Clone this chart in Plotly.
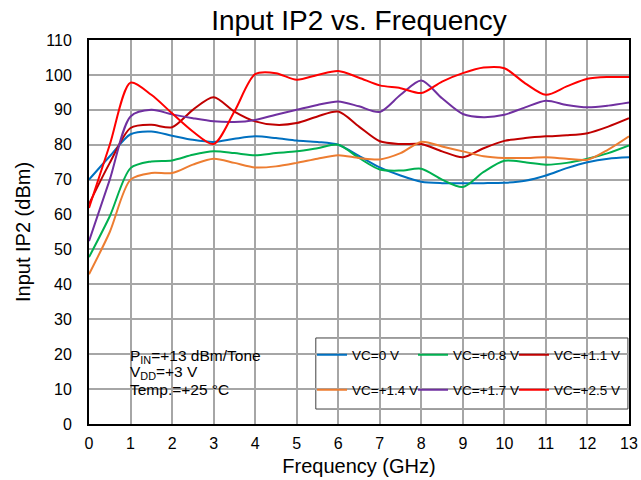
import plotly.graph_objects as go

freq = [0, 0.5, 1, 1.5, 2, 2.5, 3, 3.5, 4, 4.5, 5, 5.5, 6, 6.5, 7, 7.5, 8, 8.5, 9, 9.5, 10, 10.5, 11, 11.5, 12, 12.5, 13]

vc_0 = [70, 76.7, 83, 83.8, 82.6, 81.4, 80.8, 81.7, 82.4, 81.9, 81.2, 80.8, 80, 76.8, 73.5, 71.2, 69.4, 69, 69, 69, 69.1, 69.7, 71.2, 73.3, 75, 76, 76.4]
vc_08 = [47.8, 59.5, 73.3, 75.2, 75.5, 77.1, 78.1, 77.6, 77, 77.6, 78.1, 79, 80, 76.2, 72.9, 72.6, 73.1, 70, 67.9, 72.2, 75.4, 75, 74.3, 74.8, 76, 77.6, 79.8]
vc_11 = [63, 74.8, 84.8, 85.7, 85, 90, 93.6, 89.5, 86.7, 85.7, 86.2, 88.1, 89.5, 85.2, 81, 80.2, 80.2, 78.1, 76.4, 79, 81.1, 81.9, 82.4, 82.7, 83.3, 85.2, 87.6]
vc_14 = [42.9, 55, 70, 71.9, 71.9, 74.3, 76, 74.8, 73.5, 73.8, 74.8, 76, 77, 76.2, 75.8, 77.6, 80.8, 79.5, 78.1, 76.7, 76.2, 76.2, 76.4, 76, 75.7, 78.6, 82.4]
vc_17 = [52.4, 70, 88.1, 90, 88.7, 87.6, 86.7, 86.5, 87.1, 88.6, 90, 91.4, 92.4, 91, 89.4, 94.3, 98.4, 93.3, 88.8, 87.9, 88.6, 90.7, 92.6, 91.4, 90.7, 91.2, 92.1]
vc_25 = [61.9, 80, 97.8, 94.3, 89, 83.8, 80.2, 89.5, 100.2, 100.5, 98.6, 100, 101.1, 99.2, 97, 96.2, 94.8, 98.1, 100.5, 102.1, 101.9, 97.6, 94.3, 96.7, 98.9, 99.4, 99.4]

series_names = ["VC=0 V", "VC=+0.8 V", "VC=+1.1 V", "VC=+1.4 V", "VC=+1.7 V", "VC=+2.5 V"]
series_values = [vc_0, vc_08, vc_11, vc_14, vc_17, vc_25]
colors = ["#0070C0", "#00B050", "#C00000", "#ED7D31", "#7030A0", "#FF0000"]

x_ticks = list(range(0, 14))
y_ticks = list(range(0, 111, 10))

note_lines = ["P<sub>IN</sub>=+13 dBm/Tone", "V<sub>DD</sub>=+3 V", "Temp.=+25 °C"]

FONT = "Arial, 'Liberation Sans', sans-serif"

# legend grid: 3 columns x 2 rows inside a framed box
legend_ids = ["legend", "legend2", "legend3", "legend4", "legend5", "legend6"]
legend_cols = [0.413, 0.600, 0.787]
legend_rows = [0.180, 0.0885]

fig = go.Figure()
for name, vals, col, lg in zip(series_names, series_values, colors, legend_ids):
    fig.add_trace(go.Scatter(
        x=freq, y=vals, name=name, mode="lines", showlegend=True,
        line=dict(color=col, width=2, shape="spline", smoothing=0.8),
        legend=lg,
    ))

legend_layout = {}
for i, lg in enumerate(legend_ids):
    legend_layout[lg] = dict(
        x=legend_cols[i % 3], y=legend_rows[i // 3],
        orientation="h", xanchor="left", yanchor="middle",
        bgcolor="rgba(0,0,0,0)", borderwidth=0,
        font=dict(family=FONT, size=13.5, color="black"),
        itemwidth=30,
    )

note_y = [0.177, 0.133, 0.091]
annotations = [dict(
    text=t, xref="paper", yref="paper", x=0.073, y=yy,
    xanchor="left", yanchor="middle", align="left", showarrow=False,
    font=dict(family=FONT, size=15.5, color="black"),
) for t, yy in zip(note_lines, note_y)]

fig.update_layout(
    width=641, height=480,
    showlegend=True,
    margin=dict(l=89, r=12, t=40, b=56, autoexpand=False),
    paper_bgcolor="white", plot_bgcolor="white",
    font=dict(family=FONT, color="black"),
    title=dict(text="Input IP2 vs. Frequency", xref="paper", x=0.5, xanchor="center",
               yref="container", y=0.958, yanchor="middle",
               font=dict(family=FONT, size=28, color="black")),
    xaxis=dict(
        range=[0, 13], tickvals=x_ticks, ticktext=[str(v) for v in x_ticks],
        showgrid=True, gridcolor="#A6A6A6", gridwidth=1.5,
        showline=True, linecolor="black", linewidth=2, mirror=True,
        ticks="", ticklabelstandoff=4, zeroline=False, automargin=False,
        tickfont=dict(family=FONT, size=16, color="black"),
        title=dict(text="Frequency (GHz)", standoff=8,
                   font=dict(family=FONT, size=20, color="black")),
    ),
    yaxis=dict(
        range=[0, 110], tickvals=y_ticks, ticktext=[str(v) for v in y_ticks],
        showgrid=True, gridcolor="#A6A6A6", gridwidth=1.5,
        showline=True, linecolor="black", linewidth=2, mirror=True,
        ticks="", ticklabelstandoff=12, zeroline=False, automargin=False,
        tickfont=dict(family=FONT, size=16, color="black"),
        title=dict(text="Input IP2 (dBm)", standoff=9,
                   font=dict(family=FONT, size=20, color="black")),
    ),
    shapes=[
        dict(type="rect", xref="paper", yref="paper",
             x0=0.42, x1=0.998, y0=0.039, y1=0.224,
             line=dict(color="#404040", width=1), fillcolor="white", layer="below"),
        dict(type="rect", xref="paper", yref="paper",
             x0=0.065, x1=0.331, y0=0.0625, y1=0.211,
             line=dict(width=0), fillcolor="white", layer="below"),
    ],
    annotations=annotations,
    **legend_layout,
)

fig.write_html("out.html",
               config={"displayModeBar": False},
               post_script="document.body.style.margin='0px';document.body.style.overflow='hidden';")
